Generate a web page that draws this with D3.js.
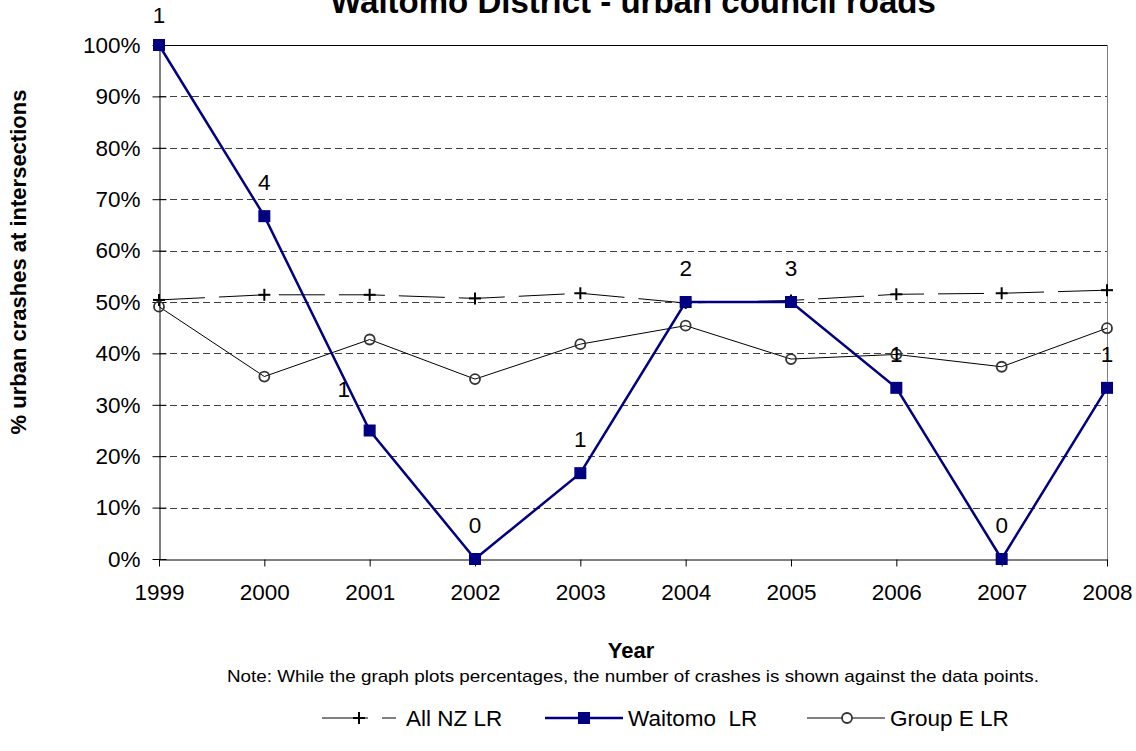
<!DOCTYPE html>
<html><head><meta charset="utf-8">
<script src="https://cdn.jsdelivr.net/npm/d3@7"></script>
<style>
html,body{margin:0;padding:0;background:#fff;}
svg{display:block;font-family:"Liberation Sans",Arial,sans-serif;}
</style></head>
<body>
<svg id="chart" width="1136" height="751"></svg>
<script>
const years = [1999,2000,2001,2002,2003,2004,2005,2006,2007,2008];
const allNZ = [0.504,0.514,0.514,0.507,0.517,0.498,0.503,0.515,0.517,0.523];
const waitomo = [1.0,0.667,0.25,0.0,0.167,0.5,0.5,0.333,0.0,0.333];
const groupE = [0.491,0.355,0.427,0.350,0.418,0.454,0.389,0.398,0.374,0.449];
const crashCounts = ["1","4","1","0","1","2","3","1","0","1"];
const yTicks = [0,0.1,0.2,0.3,0.4,0.5,0.6,0.7,0.8,0.9,1.0];
const seriesNames = ["All NZ LR","Waitomo  LR","Group E LR"];

const svg = d3.select("#chart");
const pL=159, pR=1107, pT=45, pB=559;
const x = d3.scaleLinear().domain([1999,2008]).range([pL,pR]);
const y = d3.scaleLinear().domain([0,1]).range([pB,pT]);
const navy = "#000080";
const FS = 22.5;

// gridlines
svg.append("g").selectAll("line").data(yTicks.filter(d=>d>0 && d<1)).join("line")
  .attr("x1",pL).attr("x2",pR)
  .attr("y1",d=>Math.round(y(d))+0.5).attr("y2",d=>Math.round(y(d))+0.5)
  .attr("stroke","#404040").attr("stroke-width",1).attr("stroke-dasharray","7,4");
// top border + right border
svg.append("line").attr("x1",pL).attr("x2",pR).attr("y1",pT+0.5).attr("y2",pT+0.5).attr("stroke","#000");
svg.append("line").attr("x1",pR+0.5).attr("x2",pR+0.5).attr("y1",pT).attr("y2",pB+7).attr("stroke","#808080");

// axes
const yAxis = svg.append("g").attr("transform",`translate(${pL+0.5},0)`)
  .call(d3.axisLeft(y).tickValues(yTicks).tickFormat(d3.format(".0%")).tickSizeInner(7).tickSizeOuter(0).tickPadding(12));
yAxis.selectAll(".tick line").attr("x1",7);
yAxis.select(".domain").attr("stroke","#000");
yAxis.selectAll("text").attr("font-size",FS).attr("fill","#000").attr("font-family","Liberation Sans, Arial");

const xAxis = svg.append("g").attr("transform",`translate(0,${pB+0.5})`)
  .call(d3.axisBottom(x).tickValues(years).tickFormat(d3.format("d")).tickSizeInner(7).tickSizeOuter(0).tickPadding(18));
xAxis.selectAll("text").attr("font-size",FS).attr("fill","#000").attr("font-family","Liberation Sans, Arial");
xAxis.select(".domain").attr("stroke","#000");

// All NZ
const line = arr => d3.line().x((d,i)=>x(years[i])).y(d=>y(d))(arr);
svg.append("path").attr("d",line(allNZ)).attr("fill","none").attr("stroke","#000").attr("stroke-width",1).attr("stroke-dasharray","46,14");
const plus = (g,cx,cy)=>{
  g.append("line").attr("x1",cx-6).attr("x2",cx+6).attr("y1",cy).attr("y2",cy).attr("stroke","#000").attr("stroke-width",2);
  g.append("line").attr("x1",cx).attr("x2",cx).attr("y1",cy-6).attr("y2",cy+6).attr("stroke","#000").attr("stroke-width",2);
};
const gp = svg.append("g");
allNZ.forEach((v,i)=>plus(gp,x(years[i]),y(v)));

// Group E
svg.append("path").attr("d",line(groupE)).attr("fill","none").attr("stroke","#000").attr("stroke-width",1);
svg.append("g").selectAll("circle").data(groupE).join("circle")
  .attr("cx",(d,i)=>x(years[i])).attr("cy",d=>y(d)).attr("r",5)
  .attr("fill","none").attr("stroke","#333").attr("stroke-width",1.8);

// Waitomo
svg.append("path").attr("d",line(waitomo)).attr("fill","none").attr("stroke",navy).attr("stroke-width",2.5);
svg.append("g").selectAll("rect").data(waitomo).join("rect")
  .attr("x",(d,i)=>x(years[i])-6).attr("y",d=>y(d)-6).attr("width",12).attr("height",12).attr("fill",navy);

// data labels
svg.append("g").selectAll("text").data(crashCounts).join("text")
  .attr("x",(d,i)=>x(years[i]) + (i===2?-26:0))
  .attr("y",(d,i)=>Math.max(y(waitomo[i]) - 26 + (i===2?-8:0), 23))
  .attr("text-anchor","middle").attr("font-size",FS).attr("fill","#000")
  .text(d=>d);

// title
svg.append("text").attr("x",633).attr("y",13).attr("text-anchor","middle")
  .attr("font-size",33).attr("font-weight","bold").text("Waitomo District - urban council roads");

// axis titles
svg.append("text").attr("transform","translate(26,262) rotate(-90)").attr("text-anchor","middle")
  .attr("font-size",22).attr("font-weight","bold").text("% urban crashes at intersections");
svg.append("text").attr("x",631).attr("y",658).attr("text-anchor","middle")
  .attr("font-size",22).attr("font-weight","bold").text("Year");
svg.append("text").attr("x",633).attr("y",682).attr("text-anchor","middle")
  .attr("font-size",17).attr("textLength",812).attr("lengthAdjust","spacingAndGlyphs")
  .text("Note: While the graph plots percentages, the number of crashes is shown against the data points.");

// legend
const ly = 718;
const lg = svg.append("g");
lg.append("line").attr("x1",322).attr("x2",396).attr("y1",ly).attr("y2",ly).attr("stroke","#000").attr("stroke-dasharray","46,14");
plus(lg,359,ly);
lg.append("text").attr("x",406).attr("y",ly+8).attr("font-size",FS).text(seriesNames[0]);
lg.append("line").attr("x1",545).attr("x2",623).attr("y1",ly).attr("y2",ly).attr("stroke",navy).attr("stroke-width",2.5);
lg.append("rect").attr("x",578).attr("y",ly-6).attr("width",12).attr("height",12).attr("fill",navy);
lg.append("text").attr("x",628).attr("y",ly+8).attr("font-size",FS).style("white-space","pre").text(seriesNames[1]);
lg.append("line").attr("x1",807).attr("x2",885).attr("y1",ly).attr("y2",ly).attr("stroke","#000");
lg.append("circle").attr("cx",847).attr("cy",ly).attr("r",5).attr("fill","#fff").attr("stroke","#333").attr("stroke-width",1.8);
lg.append("text").attr("x",890).attr("y",ly+8).attr("font-size",FS).text(seriesNames[2]);
</script>
</body></html>
